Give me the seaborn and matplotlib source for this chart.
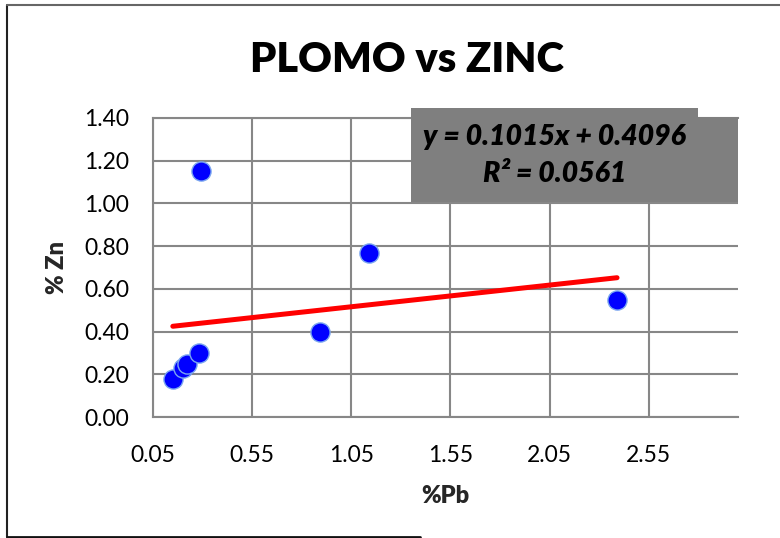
import matplotlib
matplotlib.use("Agg")
import matplotlib.pyplot as plt
import seaborn as sns
import numpy as np
import pandas as pd
from matplotlib.patches import Rectangle
from matplotlib.lines import Line2D

# ---- data ----
pb = [0.15, 0.20, 0.22, 0.28, 0.29, 0.89, 1.14, 2.39]
zn = [0.18, 0.23, 0.25, 0.30, 1.15, 0.40, 0.77, 0.55]
slope = 0.1015
intercept = 0.4096
r2 = 0.0561
x_ticks = [0.05, 0.55, 1.05, 1.55, 2.05, 2.55]
y_ticks = [0.00, 0.20, 0.40, 0.60, 0.80, 1.00, 1.20, 1.40]
title = "PLOMO vs ZINC"
x_label = "%Pb"
y_label = "% Zn"

df = pd.DataFrame({"pb": pb, "zn": zn})
trend_x = [min(pb), max(pb)]
trend = pd.DataFrame({"pb": trend_x, "zn": [slope * v + intercept for v in trend_x]})

sns.set_style("white")
plt.rcParams["font.family"] = ["Lato", "DejaVu Sans"]

W, H = 780, 538
fig = plt.figure(figsize=(W / 100, H / 100), dpi=100)
L, R, T, B = 153, 738, 118, 417
ax = fig.add_axes([L / W, 1 - B / H, (R - L) / W, (B - T) / H])

grid_c = "#878787"
ax.set_xlim(0.05, 3.0)
ax.set_ylim(0.0, 1.4)
ax.set_xticks(x_ticks)
ax.set_yticks(y_ticks)
ax.set_xticklabels([f"{v:.2f}" for v in x_ticks])
ax.set_yticklabels([f"{v:.2f}" for v in y_ticks])
ax.grid(True, color=grid_c, linewidth=1.5, zorder=0)
ax.set_axisbelow(True)
for s in ["left", "bottom", "top"]:
    ax.spines[s].set_color(grid_c)
    ax.spines[s].set_linewidth(1.5)
ax.spines["right"].set_visible(False)
ax.tick_params(axis="both", length=0, labelsize=16.5, colors="black")
ax.tick_params(axis="y", pad=17)
ax.tick_params(axis="x", pad=20)

sns.lineplot(data=trend, x="pb", y="zn", ax=ax, color="#ff0000", linewidth=3.6,
             zorder=3, legend=False)
sns.scatterplot(data=df, x="pb", y="zn", ax=ax, color="#0000ff", s=190,
                edgecolor="#7aa6f0", linewidth=1.0, zorder=4, legend=False)

ax.set_xlabel(x_label, fontsize=17, fontweight="heavy", labelpad=14)
ax.set_ylabel(y_label, fontsize=17, fontweight="heavy", labelpad=12)

# title
fig.text(407 / W, 1 - 60 / H, title, ha="center", va="center",
         fontsize=30, fontweight="heavy", color="black")

# equation box
gray = "#7f7f7f"
fig.patches.append(Rectangle((411 / W, 1 - 202 / H), (R - 411) / W, (202 - 117) / H,
                             transform=fig.transFigure, facecolor=gray,
                             edgecolor="none", zorder=5))
fig.patches.append(Rectangle((411 / W, 1 - 118 / H), (698 - 411) / W, (118 - 108) / H,
                             transform=fig.transFigure, facecolor=gray,
                             edgecolor="none", zorder=5))
fig.text(554 / W, 1 - 137 / H, f"y = {slope:.4f}x + {intercept:.4f}", ha="center",
         va="center", fontsize=20.5, fontweight="heavy", style="italic", zorder=6,
         color="black")
fig.text(555 / W, 1 - 174 / H, f"R² = {r2:.4f}", ha="center", va="center",
         fontsize=20.5, fontweight="heavy", style="italic", zorder=6, color="black")

# chart-area border
fig.add_artist(Line2D([7 / W, 7 / W], [1 - 537 / H, 1 - 5 / H], transform=fig.transFigure,
                      color="#222222", linewidth=1.5))
fig.add_artist(Line2D([7 / W, 1.0], [1 - 5 / H, 1 - 5 / H], transform=fig.transFigure,
                      color="#666666", linewidth=1.5))
fig.add_artist(Line2D([7 / W, 420 / W], [1 - 536.5 / H, 1 - 536.5 / H], transform=fig.transFigure,
                      color="#111111", linewidth=2))

fig.savefig("out.png", dpi=100)
